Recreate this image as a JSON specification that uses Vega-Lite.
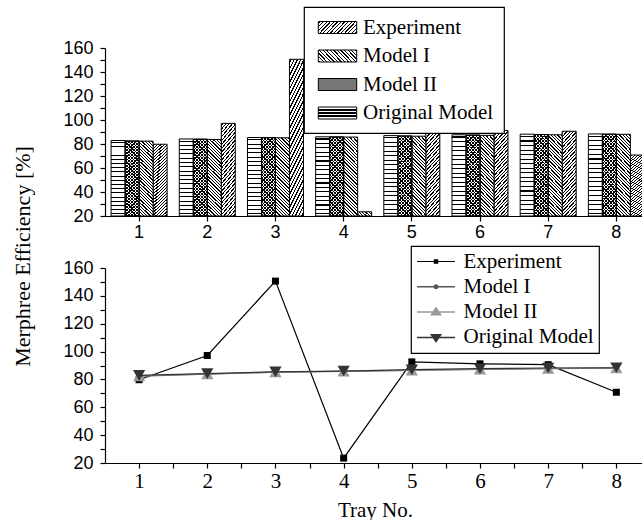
{
"$schema": "https://vega.github.io/schema/vega-lite/v6.json",
"autosize": {"type": "pad"},
"padding": {"left": 10, "top": 6, "right": 0, "bottom": 0},
"background": "white",
"bounds": "flush",
"spacing": 52,
"params": [
{"name": "gS", "value": {"gradient": "linear", "x1": 0, "y1": 0, "x2": 0.2051, "y2": 1.1426, "stops": [
{"offset":0.0109,"color":"#fff"},{"offset":0.0109,"color":"#000"},{"offset":0.0249,"color":"#000"},{"offset":0.0249,"color":"#fff"},
{"offset":0.0466,"color":"#fff"},{"offset":0.0466,"color":"#000"},{"offset":0.0606,"color":"#000"},{"offset":0.0606,"color":"#fff"},
{"offset":0.0823,"color":"#fff"},{"offset":0.0823,"color":"#000"},{"offset":0.0963,"color":"#000"},{"offset":0.0963,"color":"#fff"},
{"offset":0.118,"color":"#fff"},{"offset":0.118,"color":"#000"},{"offset":0.132,"color":"#000"},{"offset":0.132,"color":"#fff"},
{"offset":0.1537,"color":"#fff"},{"offset":0.1537,"color":"#000"},{"offset":0.1677,"color":"#000"},{"offset":0.1677,"color":"#fff"},
{"offset":0.1894,"color":"#fff"},{"offset":0.1894,"color":"#000"},{"offset":0.2034,"color":"#000"},{"offset":0.2034,"color":"#fff"},
{"offset":0.2251,"color":"#fff"},{"offset":0.2251,"color":"#000"},{"offset":0.2391,"color":"#000"},{"offset":0.2391,"color":"#fff"},
{"offset":0.2609,"color":"#fff"},{"offset":0.2609,"color":"#000"},{"offset":0.2749,"color":"#000"},{"offset":0.2749,"color":"#fff"},
{"offset":0.2966,"color":"#fff"},{"offset":0.2966,"color":"#000"},{"offset":0.3106,"color":"#000"},{"offset":0.3106,"color":"#fff"},
{"offset":0.3323,"color":"#fff"},{"offset":0.3323,"color":"#000"},{"offset":0.3463,"color":"#000"},{"offset":0.3463,"color":"#fff"},
{"offset":0.368,"color":"#fff"},{"offset":0.368,"color":"#000"},{"offset":0.382,"color":"#000"},{"offset":0.382,"color":"#fff"},
{"offset":0.4037,"color":"#fff"},{"offset":0.4037,"color":"#000"},{"offset":0.4177,"color":"#000"},{"offset":0.4177,"color":"#fff"},
{"offset":0.4394,"color":"#fff"},{"offset":0.4394,"color":"#000"},{"offset":0.4534,"color":"#000"},{"offset":0.4534,"color":"#fff"},
{"offset":0.4751,"color":"#fff"},{"offset":0.4751,"color":"#000"},{"offset":0.4891,"color":"#000"},{"offset":0.4891,"color":"#fff"},
{"offset":0.5109,"color":"#fff"},{"offset":0.5109,"color":"#000"},{"offset":0.5249,"color":"#000"},{"offset":0.5249,"color":"#fff"},
{"offset":0.5466,"color":"#fff"},{"offset":0.5466,"color":"#000"},{"offset":0.5606,"color":"#000"},{"offset":0.5606,"color":"#fff"},
{"offset":0.5823,"color":"#fff"},{"offset":0.5823,"color":"#000"},{"offset":0.5963,"color":"#000"},{"offset":0.5963,"color":"#fff"},
{"offset":0.618,"color":"#fff"},{"offset":0.618,"color":"#000"},{"offset":0.632,"color":"#000"},{"offset":0.632,"color":"#fff"},
{"offset":0.6537,"color":"#fff"},{"offset":0.6537,"color":"#000"},{"offset":0.6677,"color":"#000"},{"offset":0.6677,"color":"#fff"},
{"offset":0.6894,"color":"#fff"},{"offset":0.6894,"color":"#000"},{"offset":0.7034,"color":"#000"},{"offset":0.7034,"color":"#fff"},
{"offset":0.7251,"color":"#fff"},{"offset":0.7251,"color":"#000"},{"offset":0.7391,"color":"#000"},{"offset":0.7391,"color":"#fff"},
{"offset":0.7609,"color":"#fff"},{"offset":0.7609,"color":"#000"},{"offset":0.7749,"color":"#000"},{"offset":0.7749,"color":"#fff"},
{"offset":0.7966,"color":"#fff"},{"offset":0.7966,"color":"#000"},{"offset":0.8106,"color":"#000"},{"offset":0.8106,"color":"#fff"},
{"offset":0.8323,"color":"#fff"},{"offset":0.8323,"color":"#000"},{"offset":0.8463,"color":"#000"},{"offset":0.8463,"color":"#fff"},
{"offset":0.868,"color":"#fff"},{"offset":0.868,"color":"#000"},{"offset":0.882,"color":"#000"},{"offset":0.882,"color":"#fff"},
{"offset":0.9037,"color":"#fff"},{"offset":0.9037,"color":"#000"},{"offset":0.9177,"color":"#000"},{"offset":0.9177,"color":"#fff"},
{"offset":0.9394,"color":"#fff"},{"offset":0.9394,"color":"#000"},{"offset":0.9534,"color":"#000"},{"offset":0.9534,"color":"#fff"},
{"offset":0.9751,"color":"#fff"},{"offset":0.9751,"color":"#000"},{"offset":0.9891,"color":"#000"},{"offset":0.9891,"color":"#fff"}
]}},
{"name": "gB", "value": {"gradient": "linear", "x1": 0, "y1": 1, "x2": 0.2051, "y2": -0.1426, "stops": [
{"offset":0.0109,"color":"#fff"},{"offset":0.0109,"color":"#000"},{"offset":0.0249,"color":"#000"},{"offset":0.0249,"color":"#fff"},
{"offset":0.0466,"color":"#fff"},{"offset":0.0466,"color":"#000"},{"offset":0.0606,"color":"#000"},{"offset":0.0606,"color":"#fff"},
{"offset":0.0823,"color":"#fff"},{"offset":0.0823,"color":"#000"},{"offset":0.0963,"color":"#000"},{"offset":0.0963,"color":"#fff"},
{"offset":0.118,"color":"#fff"},{"offset":0.118,"color":"#000"},{"offset":0.132,"color":"#000"},{"offset":0.132,"color":"#fff"},
{"offset":0.1537,"color":"#fff"},{"offset":0.1537,"color":"#000"},{"offset":0.1677,"color":"#000"},{"offset":0.1677,"color":"#fff"},
{"offset":0.1894,"color":"#fff"},{"offset":0.1894,"color":"#000"},{"offset":0.2034,"color":"#000"},{"offset":0.2034,"color":"#fff"},
{"offset":0.2251,"color":"#fff"},{"offset":0.2251,"color":"#000"},{"offset":0.2391,"color":"#000"},{"offset":0.2391,"color":"#fff"},
{"offset":0.2609,"color":"#fff"},{"offset":0.2609,"color":"#000"},{"offset":0.2749,"color":"#000"},{"offset":0.2749,"color":"#fff"},
{"offset":0.2966,"color":"#fff"},{"offset":0.2966,"color":"#000"},{"offset":0.3106,"color":"#000"},{"offset":0.3106,"color":"#fff"},
{"offset":0.3323,"color":"#fff"},{"offset":0.3323,"color":"#000"},{"offset":0.3463,"color":"#000"},{"offset":0.3463,"color":"#fff"},
{"offset":0.368,"color":"#fff"},{"offset":0.368,"color":"#000"},{"offset":0.382,"color":"#000"},{"offset":0.382,"color":"#fff"},
{"offset":0.4037,"color":"#fff"},{"offset":0.4037,"color":"#000"},{"offset":0.4177,"color":"#000"},{"offset":0.4177,"color":"#fff"},
{"offset":0.4394,"color":"#fff"},{"offset":0.4394,"color":"#000"},{"offset":0.4534,"color":"#000"},{"offset":0.4534,"color":"#fff"},
{"offset":0.4751,"color":"#fff"},{"offset":0.4751,"color":"#000"},{"offset":0.4891,"color":"#000"},{"offset":0.4891,"color":"#fff"},
{"offset":0.5109,"color":"#fff"},{"offset":0.5109,"color":"#000"},{"offset":0.5249,"color":"#000"},{"offset":0.5249,"color":"#fff"},
{"offset":0.5466,"color":"#fff"},{"offset":0.5466,"color":"#000"},{"offset":0.5606,"color":"#000"},{"offset":0.5606,"color":"#fff"},
{"offset":0.5823,"color":"#fff"},{"offset":0.5823,"color":"#000"},{"offset":0.5963,"color":"#000"},{"offset":0.5963,"color":"#fff"},
{"offset":0.618,"color":"#fff"},{"offset":0.618,"color":"#000"},{"offset":0.632,"color":"#000"},{"offset":0.632,"color":"#fff"},
{"offset":0.6537,"color":"#fff"},{"offset":0.6537,"color":"#000"},{"offset":0.6677,"color":"#000"},{"offset":0.6677,"color":"#fff"},
{"offset":0.6894,"color":"#fff"},{"offset":0.6894,"color":"#000"},{"offset":0.7034,"color":"#000"},{"offset":0.7034,"color":"#fff"},
{"offset":0.7251,"color":"#fff"},{"offset":0.7251,"color":"#000"},{"offset":0.7391,"color":"#000"},{"offset":0.7391,"color":"#fff"},
{"offset":0.7609,"color":"#fff"},{"offset":0.7609,"color":"#000"},{"offset":0.7749,"color":"#000"},{"offset":0.7749,"color":"#fff"},
{"offset":0.7966,"color":"#fff"},{"offset":0.7966,"color":"#000"},{"offset":0.8106,"color":"#000"},{"offset":0.8106,"color":"#fff"},
{"offset":0.8323,"color":"#fff"},{"offset":0.8323,"color":"#000"},{"offset":0.8463,"color":"#000"},{"offset":0.8463,"color":"#fff"},
{"offset":0.868,"color":"#fff"},{"offset":0.868,"color":"#000"},{"offset":0.882,"color":"#000"},{"offset":0.882,"color":"#fff"},
{"offset":0.9037,"color":"#fff"},{"offset":0.9037,"color":"#000"},{"offset":0.9177,"color":"#000"},{"offset":0.9177,"color":"#fff"},
{"offset":0.9394,"color":"#fff"},{"offset":0.9394,"color":"#000"},{"offset":0.9534,"color":"#000"},{"offset":0.9534,"color":"#fff"},
{"offset":0.9751,"color":"#fff"},{"offset":0.9751,"color":"#000"},{"offset":0.9891,"color":"#000"},{"offset":0.9891,"color":"#fff"}
]}},
{"name": "gBt", "value": {"gradient": "linear", "x1": 0, "y1": 1, "x2": 0.2051, "y2": -0.1426, "stops": [
{"offset":0.0109,"color":"rgba(0,0,0,0)"},{"offset":0.0109,"color":"#000"},{"offset":0.0249,"color":"#000"},{"offset":0.0249,"color":"rgba(0,0,0,0)"},
{"offset":0.0466,"color":"rgba(0,0,0,0)"},{"offset":0.0466,"color":"#000"},{"offset":0.0606,"color":"#000"},{"offset":0.0606,"color":"rgba(0,0,0,0)"},
{"offset":0.0823,"color":"rgba(0,0,0,0)"},{"offset":0.0823,"color":"#000"},{"offset":0.0963,"color":"#000"},{"offset":0.0963,"color":"rgba(0,0,0,0)"},
{"offset":0.118,"color":"rgba(0,0,0,0)"},{"offset":0.118,"color":"#000"},{"offset":0.132,"color":"#000"},{"offset":0.132,"color":"rgba(0,0,0,0)"},
{"offset":0.1537,"color":"rgba(0,0,0,0)"},{"offset":0.1537,"color":"#000"},{"offset":0.1677,"color":"#000"},{"offset":0.1677,"color":"rgba(0,0,0,0)"},
{"offset":0.1894,"color":"rgba(0,0,0,0)"},{"offset":0.1894,"color":"#000"},{"offset":0.2034,"color":"#000"},{"offset":0.2034,"color":"rgba(0,0,0,0)"},
{"offset":0.2251,"color":"rgba(0,0,0,0)"},{"offset":0.2251,"color":"#000"},{"offset":0.2391,"color":"#000"},{"offset":0.2391,"color":"rgba(0,0,0,0)"},
{"offset":0.2609,"color":"rgba(0,0,0,0)"},{"offset":0.2609,"color":"#000"},{"offset":0.2749,"color":"#000"},{"offset":0.2749,"color":"rgba(0,0,0,0)"},
{"offset":0.2966,"color":"rgba(0,0,0,0)"},{"offset":0.2966,"color":"#000"},{"offset":0.3106,"color":"#000"},{"offset":0.3106,"color":"rgba(0,0,0,0)"},
{"offset":0.3323,"color":"rgba(0,0,0,0)"},{"offset":0.3323,"color":"#000"},{"offset":0.3463,"color":"#000"},{"offset":0.3463,"color":"rgba(0,0,0,0)"},
{"offset":0.368,"color":"rgba(0,0,0,0)"},{"offset":0.368,"color":"#000"},{"offset":0.382,"color":"#000"},{"offset":0.382,"color":"rgba(0,0,0,0)"},
{"offset":0.4037,"color":"rgba(0,0,0,0)"},{"offset":0.4037,"color":"#000"},{"offset":0.4177,"color":"#000"},{"offset":0.4177,"color":"rgba(0,0,0,0)"},
{"offset":0.4394,"color":"rgba(0,0,0,0)"},{"offset":0.4394,"color":"#000"},{"offset":0.4534,"color":"#000"},{"offset":0.4534,"color":"rgba(0,0,0,0)"},
{"offset":0.4751,"color":"rgba(0,0,0,0)"},{"offset":0.4751,"color":"#000"},{"offset":0.4891,"color":"#000"},{"offset":0.4891,"color":"rgba(0,0,0,0)"},
{"offset":0.5109,"color":"rgba(0,0,0,0)"},{"offset":0.5109,"color":"#000"},{"offset":0.5249,"color":"#000"},{"offset":0.5249,"color":"rgba(0,0,0,0)"},
{"offset":0.5466,"color":"rgba(0,0,0,0)"},{"offset":0.5466,"color":"#000"},{"offset":0.5606,"color":"#000"},{"offset":0.5606,"color":"rgba(0,0,0,0)"},
{"offset":0.5823,"color":"rgba(0,0,0,0)"},{"offset":0.5823,"color":"#000"},{"offset":0.5963,"color":"#000"},{"offset":0.5963,"color":"rgba(0,0,0,0)"},
{"offset":0.618,"color":"rgba(0,0,0,0)"},{"offset":0.618,"color":"#000"},{"offset":0.632,"color":"#000"},{"offset":0.632,"color":"rgba(0,0,0,0)"},
{"offset":0.6537,"color":"rgba(0,0,0,0)"},{"offset":0.6537,"color":"#000"},{"offset":0.6677,"color":"#000"},{"offset":0.6677,"color":"rgba(0,0,0,0)"},
{"offset":0.6894,"color":"rgba(0,0,0,0)"},{"offset":0.6894,"color":"#000"},{"offset":0.7034,"color":"#000"},{"offset":0.7034,"color":"rgba(0,0,0,0)"},
{"offset":0.7251,"color":"rgba(0,0,0,0)"},{"offset":0.7251,"color":"#000"},{"offset":0.7391,"color":"#000"},{"offset":0.7391,"color":"rgba(0,0,0,0)"},
{"offset":0.7609,"color":"rgba(0,0,0,0)"},{"offset":0.7609,"color":"#000"},{"offset":0.7749,"color":"#000"},{"offset":0.7749,"color":"rgba(0,0,0,0)"},
{"offset":0.7966,"color":"rgba(0,0,0,0)"},{"offset":0.7966,"color":"#000"},{"offset":0.8106,"color":"#000"},{"offset":0.8106,"color":"rgba(0,0,0,0)"},
{"offset":0.8323,"color":"rgba(0,0,0,0)"},{"offset":0.8323,"color":"#000"},{"offset":0.8463,"color":"#000"},{"offset":0.8463,"color":"rgba(0,0,0,0)"},
{"offset":0.868,"color":"rgba(0,0,0,0)"},{"offset":0.868,"color":"#000"},{"offset":0.882,"color":"#000"},{"offset":0.882,"color":"rgba(0,0,0,0)"},
{"offset":0.9037,"color":"rgba(0,0,0,0)"},{"offset":0.9037,"color":"#000"},{"offset":0.9177,"color":"#000"},{"offset":0.9177,"color":"rgba(0,0,0,0)"},
{"offset":0.9394,"color":"rgba(0,0,0,0)"},{"offset":0.9394,"color":"#000"},{"offset":0.9534,"color":"#000"},{"offset":0.9534,"color":"rgba(0,0,0,0)"},
{"offset":0.9751,"color":"rgba(0,0,0,0)"},{"offset":0.9751,"color":"#000"},{"offset":0.9891,"color":"#000"},{"offset":0.9891,"color":"rgba(0,0,0,0)"}
]}},
{"name": "gH", "value": {"gradient": "linear", "x1": 0, "y1": 0, "x2": 0.00001, "y2": 1, "stops": [
{"offset":0.0213,"color":"#fff"},{"offset":0.0213,"color":"#000"},{"offset":0.0343,"color":"#000"},{"offset":0.0343,"color":"#fff"},
{"offset":0.0768,"color":"#fff"},{"offset":0.0768,"color":"#000"},{"offset":0.0898,"color":"#000"},{"offset":0.0898,"color":"#fff"},
{"offset":0.1324,"color":"#fff"},{"offset":0.1324,"color":"#000"},{"offset":0.1454,"color":"#000"},{"offset":0.1454,"color":"#fff"},
{"offset":0.1879,"color":"#fff"},{"offset":0.1879,"color":"#000"},{"offset":0.2009,"color":"#000"},{"offset":0.2009,"color":"#fff"},
{"offset":0.2435,"color":"#fff"},{"offset":0.2435,"color":"#000"},{"offset":0.2565,"color":"#000"},{"offset":0.2565,"color":"#fff"},
{"offset":0.2991,"color":"#fff"},{"offset":0.2991,"color":"#000"},{"offset":0.3121,"color":"#000"},{"offset":0.3121,"color":"#fff"},
{"offset":0.3546,"color":"#fff"},{"offset":0.3546,"color":"#000"},{"offset":0.3676,"color":"#000"},{"offset":0.3676,"color":"#fff"},
{"offset":0.4102,"color":"#fff"},{"offset":0.4102,"color":"#000"},{"offset":0.4232,"color":"#000"},{"offset":0.4232,"color":"#fff"},
{"offset":0.4657,"color":"#fff"},{"offset":0.4657,"color":"#000"},{"offset":0.4787,"color":"#000"},{"offset":0.4787,"color":"#fff"},
{"offset":0.5213,"color":"#fff"},{"offset":0.5213,"color":"#000"},{"offset":0.5343,"color":"#000"},{"offset":0.5343,"color":"#fff"},
{"offset":0.5768,"color":"#fff"},{"offset":0.5768,"color":"#000"},{"offset":0.5898,"color":"#000"},{"offset":0.5898,"color":"#fff"},
{"offset":0.6324,"color":"#fff"},{"offset":0.6324,"color":"#000"},{"offset":0.6454,"color":"#000"},{"offset":0.6454,"color":"#fff"},
{"offset":0.6879,"color":"#fff"},{"offset":0.6879,"color":"#000"},{"offset":0.7009,"color":"#000"},{"offset":0.7009,"color":"#fff"},
{"offset":0.7435,"color":"#fff"},{"offset":0.7435,"color":"#000"},{"offset":0.7565,"color":"#000"},{"offset":0.7565,"color":"#fff"},
{"offset":0.7991,"color":"#fff"},{"offset":0.7991,"color":"#000"},{"offset":0.8121,"color":"#000"},{"offset":0.8121,"color":"#fff"},
{"offset":0.8546,"color":"#fff"},{"offset":0.8546,"color":"#000"},{"offset":0.8676,"color":"#000"},{"offset":0.8676,"color":"#fff"},
{"offset":0.9102,"color":"#fff"},{"offset":0.9102,"color":"#000"},{"offset":0.9232,"color":"#000"},{"offset":0.9232,"color":"#fff"},
{"offset":0.9657,"color":"#fff"},{"offset":0.9657,"color":"#000"},{"offset":0.9787,"color":"#000"},{"offset":0.9787,"color":"#fff"}
]}},
{"name": "LS", "value": {"gradient": "linear", "x1": 0, "y1": 0, "x2": 1.1927, "y2": 0.3578, "stops": [
{"offset":0.0227,"color":"#fff"},{"offset":0.0227,"color":"#000"},{"offset":0.0487,"color":"#000"},{"offset":0.0487,"color":"#fff"},
{"offset":0.0941,"color":"#fff"},{"offset":0.0941,"color":"#000"},{"offset":0.1201,"color":"#000"},{"offset":0.1201,"color":"#fff"},
{"offset":0.1656,"color":"#fff"},{"offset":0.1656,"color":"#000"},{"offset":0.1916,"color":"#000"},{"offset":0.1916,"color":"#fff"},
{"offset":0.237,"color":"#fff"},{"offset":0.237,"color":"#000"},{"offset":0.263,"color":"#000"},{"offset":0.263,"color":"#fff"},
{"offset":0.3084,"color":"#fff"},{"offset":0.3084,"color":"#000"},{"offset":0.3344,"color":"#000"},{"offset":0.3344,"color":"#fff"},
{"offset":0.3799,"color":"#fff"},{"offset":0.3799,"color":"#000"},{"offset":0.4059,"color":"#000"},{"offset":0.4059,"color":"#fff"},
{"offset":0.4513,"color":"#fff"},{"offset":0.4513,"color":"#000"},{"offset":0.4773,"color":"#000"},{"offset":0.4773,"color":"#fff"},
{"offset":0.5227,"color":"#fff"},{"offset":0.5227,"color":"#000"},{"offset":0.5487,"color":"#000"},{"offset":0.5487,"color":"#fff"},
{"offset":0.5941,"color":"#fff"},{"offset":0.5941,"color":"#000"},{"offset":0.6201,"color":"#000"},{"offset":0.6201,"color":"#fff"},
{"offset":0.6656,"color":"#fff"},{"offset":0.6656,"color":"#000"},{"offset":0.6916,"color":"#000"},{"offset":0.6916,"color":"#fff"},
{"offset":0.737,"color":"#fff"},{"offset":0.737,"color":"#000"},{"offset":0.763,"color":"#000"},{"offset":0.763,"color":"#fff"},
{"offset":0.8084,"color":"#fff"},{"offset":0.8084,"color":"#000"},{"offset":0.8344,"color":"#000"},{"offset":0.8344,"color":"#fff"},
{"offset":0.8799,"color":"#fff"},{"offset":0.8799,"color":"#000"},{"offset":0.9059,"color":"#000"},{"offset":0.9059,"color":"#fff"},
{"offset":0.9513,"color":"#fff"},{"offset":0.9513,"color":"#000"},{"offset":0.9773,"color":"#000"},{"offset":0.9773,"color":"#fff"}
]}},
{"name": "LB", "value": {"gradient": "linear", "x1": 0, "y1": 1, "x2": 1.1927, "y2": 0.6422, "stops": [
{"offset":0.0227,"color":"#fff"},{"offset":0.0227,"color":"#000"},{"offset":0.0487,"color":"#000"},{"offset":0.0487,"color":"#fff"},
{"offset":0.0941,"color":"#fff"},{"offset":0.0941,"color":"#000"},{"offset":0.1201,"color":"#000"},{"offset":0.1201,"color":"#fff"},
{"offset":0.1656,"color":"#fff"},{"offset":0.1656,"color":"#000"},{"offset":0.1916,"color":"#000"},{"offset":0.1916,"color":"#fff"},
{"offset":0.237,"color":"#fff"},{"offset":0.237,"color":"#000"},{"offset":0.263,"color":"#000"},{"offset":0.263,"color":"#fff"},
{"offset":0.3084,"color":"#fff"},{"offset":0.3084,"color":"#000"},{"offset":0.3344,"color":"#000"},{"offset":0.3344,"color":"#fff"},
{"offset":0.3799,"color":"#fff"},{"offset":0.3799,"color":"#000"},{"offset":0.4059,"color":"#000"},{"offset":0.4059,"color":"#fff"},
{"offset":0.4513,"color":"#fff"},{"offset":0.4513,"color":"#000"},{"offset":0.4773,"color":"#000"},{"offset":0.4773,"color":"#fff"},
{"offset":0.5227,"color":"#fff"},{"offset":0.5227,"color":"#000"},{"offset":0.5487,"color":"#000"},{"offset":0.5487,"color":"#fff"},
{"offset":0.5941,"color":"#fff"},{"offset":0.5941,"color":"#000"},{"offset":0.6201,"color":"#000"},{"offset":0.6201,"color":"#fff"},
{"offset":0.6656,"color":"#fff"},{"offset":0.6656,"color":"#000"},{"offset":0.6916,"color":"#000"},{"offset":0.6916,"color":"#fff"},
{"offset":0.737,"color":"#fff"},{"offset":0.737,"color":"#000"},{"offset":0.763,"color":"#000"},{"offset":0.763,"color":"#fff"},
{"offset":0.8084,"color":"#fff"},{"offset":0.8084,"color":"#000"},{"offset":0.8344,"color":"#000"},{"offset":0.8344,"color":"#fff"},
{"offset":0.8799,"color":"#fff"},{"offset":0.8799,"color":"#000"},{"offset":0.9059,"color":"#000"},{"offset":0.9059,"color":"#fff"},
{"offset":0.9513,"color":"#fff"},{"offset":0.9513,"color":"#000"},{"offset":0.9773,"color":"#000"},{"offset":0.9773,"color":"#fff"}
]}},
{"name": "LH", "value": {"gradient": "linear", "x1": 0, "y1": 0, "x2": 0.00001, "y2": 1, "stops": [
{"offset":0.2,"color":"#fff"},{"offset":0.2,"color":"#000"},{"offset":0.3,"color":"#000"},{"offset":0.3,"color":"#fff"},
{"offset":0.45,"color":"#fff"},{"offset":0.45,"color":"#000"},{"offset":0.55,"color":"#000"},{"offset":0.55,"color":"#fff"},
{"offset":0.7,"color":"#fff"},{"offset":0.7,"color":"#000"},{"offset":0.8,"color":"#000"},{"offset":0.8,"color":"#fff"}
]}}
],
"data": {"values": [
{"tray":1,"series":"Experiment","value":79.8},{"tray":2,"series":"Experiment","value":97.2},{"tray":3,"series":"Experiment","value":150.6},{"tray":4,"series":"Experiment","value":23.5},
{"tray":5,"series":"Experiment","value":92.6},{"tray":6,"series":"Experiment","value":91.2},{"tray":7,"series":"Experiment","value":90.6},{"tray":8,"series":"Experiment","value":70.8},
{"tray":1,"series":"Model I","value":82.4},{"tray":2,"series":"Model I","value":83.8},{"tray":3,"series":"Model I","value":85.2},{"tray":4,"series":"Model I","value":85.8},
{"tray":5,"series":"Model I","value":86.5},{"tray":6,"series":"Model I","value":87.2},{"tray":7,"series":"Model I","value":87.7},{"tray":8,"series":"Model I","value":88.1},
{"tray":1,"series":"Model II","value":82.5},{"tray":2,"series":"Model II","value":84.0},{"tray":3,"series":"Model II","value":85.3},{"tray":4,"series":"Model II","value":85.9},
{"tray":5,"series":"Model II","value":86.7},{"tray":6,"series":"Model II","value":87.4},{"tray":7,"series":"Model II","value":87.9},{"tray":8,"series":"Model II","value":88.2},
{"tray":1,"series":"Original Model","value":82.9},{"tray":2,"series":"Original Model","value":84.2},{"tray":3,"series":"Original Model","value":85.4},{"tray":4,"series":"Original Model","value":86.0},
{"tray":5,"series":"Original Model","value":87.0},{"tray":6,"series":"Original Model","value":87.7},{"tray":7,"series":"Original Model","value":88.2},{"tray":8,"series":"Original Model","value":88.4}
]},
"config": {
"view": {"stroke": null},
"legend": {"strokeWidth": 1.2},
"axis": {"domainColor": "#000", "tickColor": "#000", "labelColor": "#000", "titleColor": "#000", "grid": false, "domainWidth": 1.2, "tickWidth": 1.2, "tickSize": 5}
},
"resolve": {"scale": {"fill": "independent", "color": "independent", "shape": "independent", "size": "independent", "stroke": "independent"}},
"vconcat": [
{
"width": 540, "height": 168,
"encoding": {
"x": {"field": "tray", "type": "ordinal", "scale": {"paddingInner": 0.1786, "paddingOuter": 0.0493, "align": 0.906},
 "axis": {"title": null, "labelAngle": 0, "labelFont": "Liberation Sans", "labelFontSize": 18, "labelPadding": 2}},
"xOffset": {"field": "series", "type": "nominal", "scale": {"domain": ["Original Model", "Model II", "Model I", "Experiment"], "paddingInner": 0, "paddingOuter": 0}},
"y": {"field": "value", "type": "quantitative", "stack": null, "scale": {"domain": [20, 160], "nice": false, "zero": false},
 "axis": {"title": null, "values": [20,30,40,50,60,70,80,90,100,110,120,130,140,150,160], "labelExpr": "datum.value % 20 === 0 ? datum.label : ''", "labelFont": "Liberation Sans", "labelFontSize": 18, "labelPadding": 7, "labelOverlap": false}}
},
"layer": [
{
"mark": {"type": "bar", "stroke": "#000", "strokeWidth": 1},
"encoding": {
"color": {"field": "series", "type": "nominal",
 "scale": {"domain": ["Original Model", "Model II", "Model I", "Experiment"], "range": [{"expr": "gH"}, {"expr": "gS"}, {"expr": "gB"}, {"expr": "gS"}]},
 "legend": null}
}
},
{
"transform": [{"filter": "datum.series === 'Model II'"}],
"mark": {"type": "bar", "stroke": "#000", "strokeWidth": 1, "fill": {"expr": "gBt"}}
},
{
"transform": [{"filter": "false"}],
"mark": {"type": "point", "filled": true, "shape": "M-3.2,-1H3.2V1H-3.2Z", "size": 144, "stroke": "#000", "strokeWidth": 1, "opacity": 1},
"encoding": {
"fill": {"field": "series", "type": "nominal",
 "scale": {"domain": ["Experiment", "Model I", "Model II", "Original Model"], "range": [{"expr": "LS"}, {"expr": "LB"}, "#777777", {"expr": "LH"}]},
 "legend": {"orient": "none", "legendX": 199, "legendY": -41, "title": null, "padding": 10, "rowPadding": 6.5,
  "symbolType": "M-3.2,-1H3.2V1H-3.2Z", "symbolSize": 144, "symbolOffset": 13, "labelOffset": 15,
  "labelFont": "Liberation Serif", "labelFontSize": 21, "labelColor": "#000", "labelLimit": 300,
  "strokeColor": "#000", "fillColor": "#fff", "symbolStrokeColor": "#000", "symbolStrokeWidth": 1, "symbolOpacity": 1}}
}
}
]
},
{
"width": 540, "height": 195,
"encoding": {
"x": {"field": "tray", "type": "quantitative", "scale": {"domain": [0.5, 8.42], "nice": false, "zero": false},
 "axis": {"title": "Tray No.", "titleFont": "Liberation Serif", "titleFontSize": 21, "titleFontWeight": "normal", "titlePadding": 8,
  "values": [1,1.5,2,2.5,3,3.5,4,4.5,5,5.5,6,6.5,7,7.5,8], "labelExpr": "datum.value % 1 === 0 ? '' + datum.value : ''", "labelFont": "Liberation Serif", "labelFontSize": 21, "labelPadding": 2, "labelFlush": false, "labelOverlap": false}},
"y": {"field": "value", "type": "quantitative", "scale": {"domain": [20, 160], "nice": false, "zero": false},
 "axis": {"title": "Merphree Efficiency [%]", "titleFont": "Liberation Serif", "titleFontSize": 22, "titleFontWeight": "normal",
  "titleX": -83, "titleY": -12, "titleAngle": -90, "titleAlign": "center", "titleBaseline": "middle",
  "values": [20,30,40,50,60,70,80,90,100,110,120,130,140,150,160], "labelExpr": "datum.value % 20 === 0 ? datum.label : ''", "labelFont": "Liberation Sans", "labelFontSize": 18, "labelPadding": 7, "labelOverlap": false}}
},
"layer": [
{
"mark": {"type": "line", "strokeWidth": 1.2},
"encoding": {
"stroke": {"field": "series", "type": "nominal", "scale": {"domain": ["Original Model", "Model II", "Model I", "Experiment"], "range": ["#333333", "#999999", "#555555", "#000000"]}, "legend": null}
}
},
{"transform": [{"filter": "datum.series === 'Experiment'"}], "mark": {"type": "point", "shape": "square", "filled": true, "size": 49, "color": "#000", "opacity": 1}},
{"transform": [{"filter": "datum.series === 'Model I'"}], "mark": {"type": "point", "shape": "circle", "filled": true, "size": 30, "color": "#666", "opacity": 1}},
{"transform": [{"filter": "datum.series === 'Model II'"}], "mark": {"type": "point", "shape": "triangle-up", "filled": true, "size": 150, "color": "#9a9a9a", "opacity": 1}},
{"transform": [{"filter": "datum.series === 'Original Model'"}], "mark": {"type": "point", "shape": "triangle-down", "filled": true, "size": 150, "color": "#333", "opacity": 1}},
{
"transform": [{"filter": "false"}],
"mark": {"type": "point", "filled": true, "size": 100, "opacity": 1},
"encoding": {
"color": {"field": "series", "type": "nominal", "scale": {"domain": ["Experiment", "Model I", "Model II", "Original Model"], "range": ["#000000", "#555555", "#999999", "#333333"]},
 "legend": {"orient": "none", "legendX": 306, "legendY": -22, "title": null, "padding": 5, "rowPadding": 3.3,
  "symbolSize": 100, "symbolOffset": 9.5, "labelOffset": 17, "symbolStrokeWidth": 0, "symbolOpacity": 1,
  "labelFont": "Liberation Serif", "labelFontSize": 21, "labelColor": "#000", "labelLimit": 300,
  "strokeColor": "#000", "fillColor": "#fff"}},
"shape": {"field": "series", "type": "nominal", "scale": {"domain": ["Experiment", "Model I", "Model II", "Original Model"],
  "range": ["M-3.8,-0.1H3.8V0.1H-3.8Z M-0.45,-0.45H0.45V0.45H-0.45Z", "M-3.8,-0.15H3.8V0.15H-3.8Z M-0.5,0A0.5,0.5,0,1,1,0.5,0A0.5,0.5,0,1,1,-0.5,0Z", "M-3.8,-0.15H3.8V0.15H-3.8Z M-1.2,0.7L0,-1.1L1.2,0.7Z", "M-3.8,-0.15H3.8V0.15H-3.8Z M-1.2,-0.7L1.2,-0.7L0,1.1Z"]},
 "legend": {"orient": "none", "legendX": 306, "legendY": -22, "title": null, "padding": 5, "rowPadding": 3.3,
  "symbolSize": 100, "symbolOffset": 9.5, "labelOffset": 17, "symbolStrokeWidth": 0, "symbolOpacity": 1,
  "labelFont": "Liberation Serif", "labelFontSize": 21, "labelColor": "#000", "labelLimit": 300,
  "strokeColor": "#000", "fillColor": "#fff"}}
}
}
]
}
]
}
